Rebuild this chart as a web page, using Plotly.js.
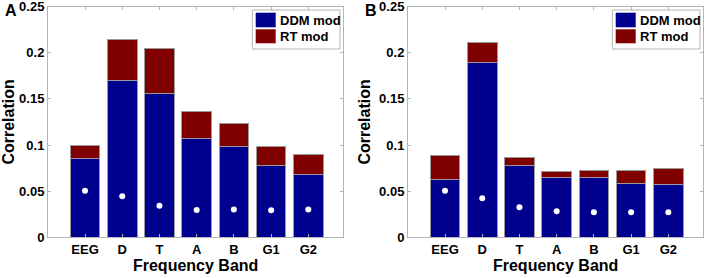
<!DOCTYPE html>
<html>
<head>
<meta charset="utf-8">
<script src="https://cdn.plot.ly/plotly-3.0.1.min.js"></script>
<style>html,body{margin:0;padding:0;background:#fff}#chart{width:709px;height:278px}</style>
</head>
<body>
<div id="chart"></div>
<script>
// ---- data ----
var bands = ["EEG", "D", "T", "A", "B", "G1", "G2"];
// Panel A
var ddmA   = [0.0856, 0.1704, 0.1556, 0.1072, 0.0989, 0.0773, 0.0682];
var totalA = [0.0993, 0.2148, 0.2043, 0.1368, 0.1235, 0.0982, 0.0895];
var dotA   = [0.0505, 0.0444, 0.0343, 0.0296, 0.0300, 0.0292, 0.0300];
// Panel B
var ddmB   = [0.0628, 0.1892, 0.0776, 0.0653, 0.0646, 0.0581, 0.0570];
var totalB = [0.0888, 0.2112, 0.0866, 0.0715, 0.0722, 0.0722, 0.0751];
var dotB   = [0.0505, 0.0422, 0.0325, 0.0282, 0.0271, 0.0271, 0.0272];
var yTicks = [0, 0.05, 0.1, 0.15, 0.2, 0.25];
var yTickText = ["0", "0.05", "0.1", "0.15", "0.2", "0.25"];
var seriesNames = ["DDM mod", "RT mod"];
var panelLabels = ["A", "B"];

var BLUE = "#00008f", RED = "#800000", EDGE = "#9a9a9a", AX = "#b4b4b4";
var FONT = "Liberation Sans, Arial, Helvetica, sans-serif";
var W = 709, H = 278;
function px(x){ return x / W; }
function py(y){ return 1 - y / H; }

function diff(t, d){ return t.map(function(v, i){ return +(v - d[i]).toFixed(4); }); }

function panel(ddm, total, dots, xa, ya){
  return [
    {type: "bar", x: bands, y: ddm, name: seriesNames[0], xaxis: xa, yaxis: ya,
     marker: {color: BLUE, line: {color: EDGE, width: 1}}, showlegend: false, hoverinfo: "y"},
    {type: "bar", x: bands, y: diff(total, ddm), name: seriesNames[1], xaxis: xa, yaxis: ya,
     marker: {color: RED, line: {color: EDGE, width: 1}}, showlegend: false, hoverinfo: "y"},
    {type: "scatter", mode: "markers", x: bands, y: dots, xaxis: xa, yaxis: ya,
     marker: {color: "#ffffff", size: 6}, showlegend: false, hoverinfo: "y"}
  ];
}

var data = panel(ddmA, totalA, dotA, "x", "y").concat(panel(ddmB, totalB, dotB, "x2", "y2"));

var yDom = [py(237.3), py(6.5)];
function xaxis(dom, anchor){
  return {domain: dom, anchor: anchor, type: "category", range: [-0.995, 6.94],
    showline: true, linecolor: AX, linewidth: 1, mirror: "ticks",
    ticks: "inside", ticklen: 3, tickcolor: AX, showgrid: false, zeroline: false,
    tickfont: {family: FONT, size: 13, color: "#000", weight: "bold"},
    title: {text: "Frequency Band", font: {family: FONT, size: 16, color: "#000", weight: "bold"}, standoff: 2},
    automargin: false, fixedrange: true};
}
function yaxis(anchor){
  return {domain: yDom, anchor: anchor, range: [0, 0.2501], tickvals: yTicks, ticktext: yTickText,
    showline: true, linecolor: AX, linewidth: 1, mirror: "ticks",
    ticks: "inside", ticklen: 3, tickcolor: AX, showgrid: false, zeroline: false,
    ticklabeloverflow: "allow",
    tickfont: {family: FONT, size: 13, color: "#000", weight: "bold"},
    title: {text: "Correlation", font: {family: FONT, size: 16, color: "#000", weight: "bold"}, standoff: 4},
    automargin: false, fixedrange: true};
}

var shapes = [], annotations = [];
[0, 360].forEach(function(off, k){
  shapes.push({type: "rect", xref: "paper", yref: "paper",
    x0: px(252.3 + off), x1: px(340 + off), y0: py(49), y1: py(10),
    line: {color: AX, width: 1}, fillcolor: "#ffffff", layer: "above"});
  shapes.push({type: "rect", xref: "paper", yref: "paper",
    x0: px(255.7 + off), x1: px(275.7 + off), y0: py(27.3), y1: py(12.7),
    line: {width: 0}, fillcolor: BLUE, layer: "above"});
  shapes.push({type: "rect", xref: "paper", yref: "paper",
    x0: px(255.7 + off), x1: px(275.7 + off), y0: py(43.3), y1: py(29.3),
    line: {width: 0}, fillcolor: RED, layer: "above"});
  annotations.push({xref: "paper", yref: "paper", x: px(277.5 + off), y: py(20.5), xanchor: "left", yanchor: "middle",
    text: seriesNames[0], showarrow: false, font: {family: FONT, size: 13, color: "#000", weight: "bold"}});
  annotations.push({xref: "paper", yref: "paper", x: px(277.5 + off), y: py(36.5), xanchor: "left", yanchor: "middle",
    text: seriesNames[1], showarrow: false, font: {family: FONT, size: 13, color: "#000", weight: "bold"}});
  annotations.push({xref: "paper", yref: "paper", x: px(3 + off), y: py(11), xanchor: "left", yanchor: "middle",
    text: panelLabels[k], showarrow: false, font: {family: FONT, size: 16, color: "#000", weight: "bold"}});
});

var layout = {
  width: W, height: H, margin: {l: 0, r: 0, t: 0, b: 0},
  paper_bgcolor: "#ffffff", plot_bgcolor: "#ffffff",
  barmode: "stack", bargap: 0.2, showlegend: false,
  xaxis: xaxis([px(48), px(343.3)], "y"),
  yaxis: yaxis("x"),
  xaxis2: xaxis([px(408), px(703.3)], "y2"),
  yaxis2: yaxis("x2"),
  shapes: shapes, annotations: annotations
};

Plotly.newPlot("chart", data, layout, {displayModeBar: false, staticPlot: true});
</script>
</body>
</html>
